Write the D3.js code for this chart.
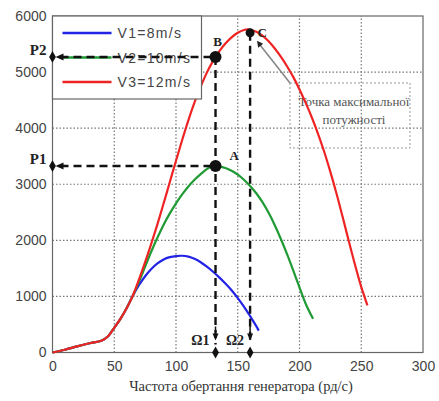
<!DOCTYPE html>
<html>
<head>
  <meta charset="utf-8">
  <title>Plot 1</title>
  <script src="https://d3js.org/d3.v7.min.js"></script>
  <style>
    body { margin: 0; background: #fff; }
  </style>
</head>
<body>
  <div id="chart"></div>

  <script>
    // omega (rad/s) and power (W)
    const omegaV1 = [0, 10, 20, 30, 40, 45, 50, 55, 60, 65, 70, 75, 80, 85, 90, 95, 100, 105, 110, 115, 120, 125, 130, 135, 140, 145, 150, 155, 160, 165, 167];
    const powerV1 = [0, 50, 110, 165, 215, 290, 440, 600, 790, 1010, 1200, 1360, 1490, 1590, 1660, 1700, 1720, 1725, 1710, 1670, 1610, 1530, 1440, 1340, 1230, 1110, 970, 820, 650, 470, 390];

    const omegaV2 = [0, 10, 20, 30, 40, 45, 50, 55, 60, 65, 70, 75, 80, 85, 90, 95, 100, 105, 110, 115, 120, 125, 130, 135, 140, 145, 150, 155, 160, 165, 170, 175, 180, 185, 190, 195, 200, 205, 211];
    const powerV2 = [0, 50, 110, 165, 215, 290, 440, 600, 790, 1010, 1260, 1530, 1800, 2050, 2280, 2480, 2660, 2820, 2960, 3080, 3180, 3270, 3330, 3320, 3290, 3240, 3170, 3080, 2970, 2840, 2680, 2490, 2270, 2020, 1750, 1460, 1160, 870, 600];

    const omegaV3 = [0, 10, 20, 30, 40, 45, 50, 55, 60, 65, 70, 75, 80, 85, 90, 95, 100, 105, 110, 115, 120, 125, 130, 135, 140, 145, 150, 155, 158, 160, 165, 170, 175, 180, 185, 190, 195, 200, 205, 210, 215, 220, 225, 230, 235, 240, 245, 250, 255];
    const powerV3 = [0, 50, 110, 165, 215, 290, 440, 600, 790, 1010, 1300, 1610, 1940, 2290, 2660, 3040, 3420, 3790, 4140, 4460, 4740, 4990, 5200, 5370, 5510, 5620, 5700, 5750, 5760, 5755, 5720, 5650, 5550, 5420, 5270, 5100, 4910, 4690, 4450, 4190, 3900, 3580, 3220, 2830, 2410, 1980, 1560, 1170, 840];

    const seriesNames = ["V1=8m/s", "V2=10m/s", "V3=12m/s"];
    const seriesColors = ["#2323e6", "#1f9a35", "#ee2424"];

    const xTicks = [0, 50, 100, 150, 200, 250, 300];
    const yTicks = [0, 1000, 2000, 3000, 4000, 5000, 6000];

    // operating points
    const omega1 = 132, omega2 = 160;
    const pointA = { x: omega1, y: 3325, label: "A" };
    const pointB = { x: omega1, y: 5270, label: "B" };
    const pointC = { x: omega2, y: 5700, label: "C" };
    const pLabels = ["P1", "P2"];
    const omegaLabels = ["Ω1", "Ω2"];
    const xTitle = "Частота обертання генератора (рд/с)";
    const noteLines = ["Точка максимальної", "потужності"];

    const width = 439;
    const height = 401;
    const margin = { top: 16, right: 16, bottom: 48.5, left: 52.5 };

    const svg = d3.select("#chart")
      .append("svg")
      .attr("width", width)
      .attr("height", height)
      .style("font-family", "'Liberation Sans', Arial, sans-serif");

    const xScale = d3.scaleLinear()
      .domain([0, 300])
      .range([margin.left, width - margin.right]);

    const yScale = d3.scaleLinear()
      .domain([0, 6000])
      .range([height - margin.bottom, margin.top]);

    const x0 = xScale(0), x1 = xScale(300), y0 = yScale(0), y1 = yScale(6000);

    // grid
    svg.append("g")
      .selectAll("line")
      .data(xTicks.slice(1, -1))
      .join("line")
      .attr("x1", d => xScale(d)).attr("x2", d => xScale(d))
      .attr("y1", y0).attr("y2", y1)
      .attr("stroke", "#777").attr("stroke-width", 1.2)
      .attr("stroke-dasharray", "1.5,2");

    svg.append("g")
      .selectAll("line")
      .data(yTicks.slice(1, -1))
      .join("line")
      .attr("x1", x0).attr("x2", x1)
      .attr("y1", d => yScale(d)).attr("y2", d => yScale(d))
      .attr("stroke", "#777").attr("stroke-width", 1.2)
      .attr("stroke-dasharray", "1.5,2");

    // axes
    const xAxis = d3.axisBottom(xScale).tickValues(xTicks).tickFormat(d3.format("d")).tickSize(0).tickPadding(9);
    const yAxis = d3.axisLeft(yScale).tickValues(yTicks).tickFormat(d3.format("d")).tickSize(0).tickPadding(6);

    svg.append("g")
      .attr("transform", `translate(0, ${y0})`)
      .call(xAxis)
      .call(g => g.select(".domain").remove())
      .selectAll("text")
      .attr("font-size", 14).attr("fill", "#444")
      .style("font-family", "'Liberation Sans', Arial, sans-serif");

    svg.append("g")
      .attr("transform", `translate(${x0}, 0)`)
      .call(yAxis)
      .call(g => g.select(".domain").remove())
      .selectAll("text")
      .attr("font-size", 14).attr("fill", "#444")
      .style("font-family", "'Liberation Sans', Arial, sans-serif");

    // frame
    svg.append("rect")
      .attr("x", x0).attr("y", y1)
      .attr("width", x1 - x0).attr("height", y0 - y1)
      .attr("fill", "none").attr("stroke", "#666").attr("stroke-width", 1.2);

    // annotation box
    const note = { x: 290, y: 83, w: 120, h: 65 };
    svg.append("rect")
      .attr("x", note.x).attr("y", note.y)
      .attr("width", note.w).attr("height", note.h)
      .attr("fill", "none").attr("stroke", "#999").attr("stroke-width", 1)
      .attr("stroke-dasharray", "2,2");

    svg.append("g")
      .selectAll("text")
      .data(noteLines)
      .join("text")
      .attr("x", note.x + note.w / 2 + 4)
      .attr("y", (d, i) => note.y + 23 + i * 18)
      .attr("text-anchor", "middle")
      .attr("font-size", 13)
      .attr("fill", "#555")
      .style("font-family", "'Liberation Serif', serif")
      .text(d => d);

    // curves
    const series = [
      omegaV1.map((d, i) => ({ x: d, y: powerV1[i] })),
      omegaV2.map((d, i) => ({ x: d, y: powerV2[i] })),
      omegaV3.map((d, i) => ({ x: d, y: powerV3[i] }))
    ];

    const line = d3.line()
      .x(d => xScale(d.x))
      .y(d => yScale(d.y))
      .curve(d3.curveCatmullRom.alpha(0.5));

    svg.append("g")
      .selectAll("path")
      .data(series)
      .join("path")
      .attr("d", line)
      .attr("fill", "none")
      .attr("stroke", (d, i) => seriesColors[i])
      .attr("stroke-width", 2.2);

    // legend
    const legend = svg.append("g");
    legend.append("rect")
      .attr("x", x0).attr("y", y1)
      .attr("width", 149).attr("height", 83)
      .attr("fill", "#fff").attr("stroke", "#666").attr("stroke-width", 1.2);

    const legendRows = legend.selectAll("g")
      .data(seriesNames)
      .join("g")
      .attr("transform", (d, i) => `translate(${x0 + 10}, ${y1 + 17 + i * 24.5})`);

    legendRows.append("line")
      .attr("x1", 0).attr("x2", 49)
      .attr("stroke", (d, i) => seriesColors[i])
      .attr("stroke-width", 2.5);

    legendRows.append("text")
      .attr("x", 55).attr("y", 5)
      .attr("font-size", 14)
      .attr("letter-spacing", 1.3)
      .attr("fill", "#444")
      .text(d => d);

    // dashed guide lines
    const guides = svg.append("g")
      .attr("stroke", "#111").attr("stroke-width", 2.4)
      .attr("stroke-dasharray", "8,5").attr("fill", "none");

    [pointA, pointB].forEach(p => {
      guides.append("line")
        .attr("x1", x0 + 8).attr("x2", xScale(p.x))
        .attr("y1", yScale(p.y)).attr("y2", yScale(p.y));
    });
    [pointB, pointC].forEach(p => {
      guides.append("line")
        .attr("x1", xScale(p.x)).attr("x2", xScale(p.x))
        .attr("y1", yScale(p.y)).attr("y2", y0 - 8);
    });

    // diamonds and arrow heads on the axes
    const diamond = d3.symbol().type(d3.symbolDiamond).size(40);
    const marks = svg.append("g").attr("fill", "#111");

    [pointA, pointB].forEach(p => {
      const yy = yScale(p.y);
      marks.append("path").attr("d", diamond).attr("transform", `translate(${x0}, ${yy})`);
      marks.append("path").attr("d", `M${x0 + 3},${yy} l8,-3.5 l0,7 z`);
    });
    [pointB, pointC].forEach(p => {
      const xx = xScale(p.x);
      marks.append("path").attr("d", diamond).attr("transform", `translate(${xx}, ${y0})`);
      marks.append("path").attr("d", `M${xx},${y0 - 12} l-3,-7 l6,0 z`);
      marks.append("line").attr("x1", xx).attr("x2", xx)
        .attr("y1", y0 - 20).attr("y2", y0 - 26).attr("stroke", "#111").attr("stroke-width", 1.5);
    });

    // operating points
    svg.append("g")
      .selectAll("circle")
      .data([pointA, pointB, pointC])
      .join("circle")
      .attr("cx", d => xScale(d.x))
      .attr("cy", d => yScale(d.y))
      .attr("r", (d, i) => i === 2 ? 4.5 : 6)
      .attr("fill", "#111");

    // pointer from the note to C
    svg.append("line")
      .attr("x1", note.x).attr("y1", note.y)
      .attr("x2", xScale(pointC.x) + 9).attr("y2", yScale(pointC.y) + 11)
      .attr("stroke", "#888").attr("stroke-width", 1.6);
    svg.append("path")
      .attr("d", `M${xScale(pointC.x) + 7},${yScale(pointC.y) + 8} l1,7 l5,-4 z`)
      .attr("fill", "#222");

    const serifBold = g => g
      .attr("font-weight", "bold")
      .attr("fill", "#222")
      .style("font-family", "'Liberation Serif', serif");

    // point labels
    svg.append("text").attr("x", xScale(pointA.x) + 14).attr("y", yScale(pointA.y) - 6)
      .attr("font-size", 13).call(serifBold).text(pointA.label);
    svg.append("text").attr("x", xScale(pointB.x) + 2).attr("y", yScale(pointB.y) - 11)
      .attr("text-anchor", "middle").attr("font-size", 13).call(serifBold).text(pointB.label);
    svg.append("text").attr("x", xScale(pointC.x) + 12).attr("y", yScale(pointC.y) + 4)
      .attr("text-anchor", "middle").attr("font-size", 13).call(serifBold).text(pointC.label);

    // P1, P2 labels
    svg.append("g")
      .selectAll("text")
      .data([pointA, pointB])
      .join("text")
      .attr("x", x0 - 6)
      .attr("y", d => yScale(d.y) - 2)
      .attr("text-anchor", "end")
      .attr("font-size", 15)
      .call(serifBold)
      .text((d, i) => pLabels[i]);

    // omega labels
    svg.append("g")
      .selectAll("text")
      .data([pointB, pointC])
      .join("text")
      .attr("x", d => xScale(d.x) - 6)
      .attr("y", y0 - 8)
      .attr("text-anchor", "end")
      .attr("font-size", 14)
      .call(serifBold)
      .text((d, i) => omegaLabels[i]);

    // x title
    svg.append("text")
      .attr("x", 241).attr("y", 391)
      .attr("text-anchor", "middle")
      .attr("font-size", 14.5)
      .attr("fill", "#333")
      .style("font-family", "'Liberation Serif', serif")
      .text(xTitle);
  </script>
</body>
</html>
